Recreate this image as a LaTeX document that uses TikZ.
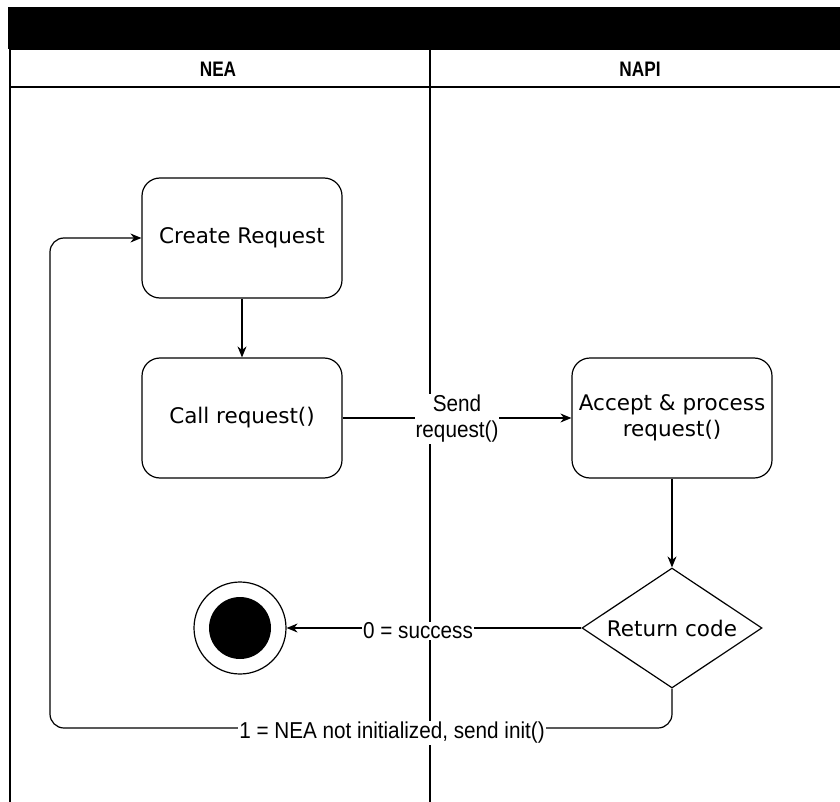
\documentclass[tikz,border=0pt]{standalone}
\usepackage{fontspec}
\setmainfont{DejaVu Sans}
\newfontfamily\labfont[FakeStretch=0.9]{Liberation Sans}
\newfontfamily\hdrfont[FakeStretch=0.82]{Liberation Sans}
\usetikzlibrary{shapes.geometric,arrows.meta}
\begin{document}
\begin{tikzpicture}[x=1pt,y=-1pt,
  every node/.style={inner sep=0pt},
  lane/.style={line width=1.3pt},
  act/.style={draw,line width=1.2pt,rounded corners=18pt,minimum width=200pt,minimum height=120pt,align=center,font=\fontsize{21.5}{26}\selectfont},
  dec/.style={draw,line width=1.2pt,shape=diamond,aspect=1.5,minimum width=180pt,minimum height=120pt,font=\fontsize{21.5}{26}\selectfont},
  hdr/.style={font=\hdrfont\bfseries\fontsize{21}{24}\selectfont},
  elab/.style={fill=white,inner sep=1pt,align=center,font=\labfont\fontsize{23}{26}\selectfont},
  arr/.style={line width=1.2pt,-{Stealth[length=11pt,width=9pt]}}
]
\useasboundingbox (0,0) rectangle (840,802);
% pool
\fill[black] (8,7) rectangle (850,49);
\draw[lane] (10,49) -- (850,49);
\draw[lane] (10,87) -- (850,87);
\draw[lane] (10,49) -- (10,810);
\draw[lane] (430,49) -- (430,810);
\node[hdr] (hnea) at (218,69) {NEA};
\node[hdr] (hnapi) at (640,69) {NAPI};
% nodes
\node[act] (cr) at (242,238) {Create Request};
\node[act] (call) at (242,418) {Call request()};
\node[act] (acc) at (672,418) {Accept \& process\\request()};
\node[dec] (ret) at (672,628) {Return code};
\node[draw,circle,line width=1.2pt,minimum size=92pt] (fin) at (240,628) {};
\node[fill=black,circle,minimum size=62pt] (finin) at (240,628) {};
% connectors
\draw[arr] (cr) -- (call);
\draw[arr] (call) -- (acc);
\node[elab] (l1) at (457,419) {Send\\request()};
\draw[arr] (acc) -- (ret);
\draw[arr] (ret.west) -- (fin.east);
\node[elab] (l2) at (418,631) {0 = success};
\coordinate (c1) at (672,728);
\coordinate (c2) at (50,728);
\coordinate (c3) at (50,238);
\draw[arr,rounded corners=14pt] (ret.south) -- (c1) -- (c2) -- (c3) -- (cr.west);
\node[elab] (l3) at (392,733) {1 = NEA not initialized, send init()};
\end{tikzpicture}
\end{document}
